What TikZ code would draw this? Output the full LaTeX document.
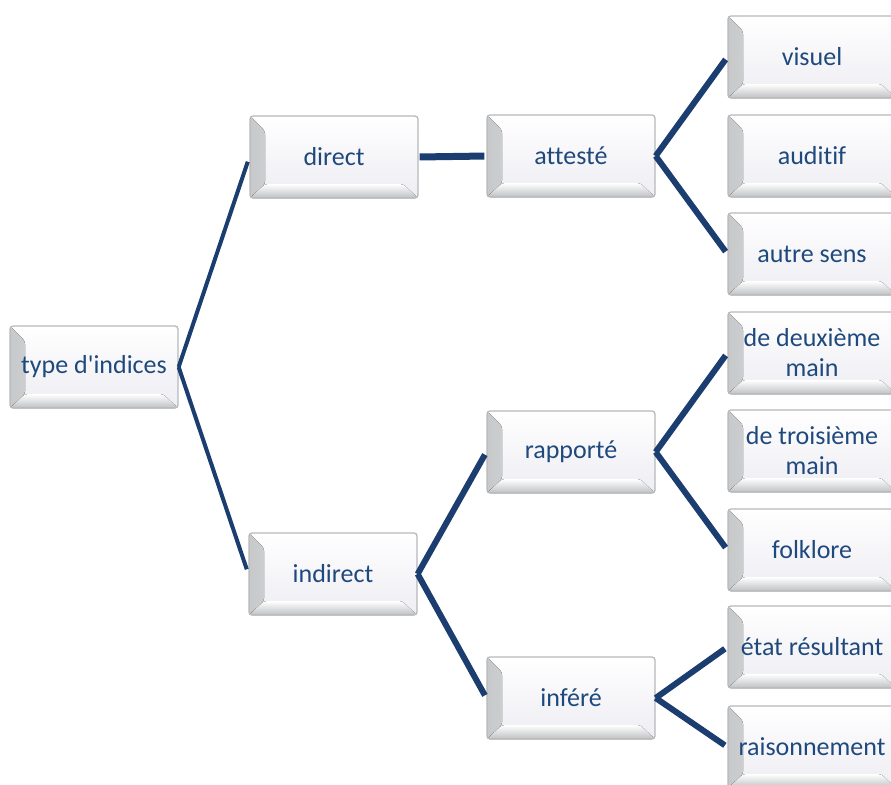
\documentclass[tikz,border=0pt]{standalone}
\usepackage{fontspec}
\setmainfont{Carlito}[Ligatures=NoCommon]
\usetikzlibrary{positioning,calc}
\definecolor{txtblue}{HTML}{1F497D}
\definecolor{linkblue}{HTML}{1B3D6F}
\definecolor{facebot}{HTML}{EDEDF3}
\definecolor{rimgray}{HTML}{A9ABAE}

\begin{document}
\begin{tikzpicture}
[x=1pt,y=-1pt,
bbox/.style={rectangle,rounded corners=3pt,minimum width=168pt,minimum height=82pt,
 inner sep=2pt,align=center,text=txtblue,font=\fontsize{26}{30}\selectfont,
 draw=rimgray!85,line width=1.3pt,top color=white,bottom color=facebot,
 path picture={
  % left and bottom bevels
  \fill[left color=rimgray!65,right color=white]
   (path picture bounding box.north west) -- (path picture bounding box.south west)
   -- ($(path picture bounding box.south west)+(15pt,14pt)$)
   -- ($(path picture bounding box.north west)+(15pt,-15pt)$) -- cycle;
  \fill[bottom color=rimgray!75,top color=white]
   (path picture bounding box.south west) -- (path picture bounding box.south east)
   -- ($(path picture bounding box.south east)+(-15pt,14pt)$)
   -- ($(path picture bounding box.south west)+(15pt,14pt)$) -- cycle;
 }},
link/.style={draw=linkblue,line width=6pt,shorten >=3pt},
rootlink/.style={draw=linkblue,line width=4pt,shorten >=5pt},
hlink/.style={draw=linkblue,line width=7pt,shorten <=1pt,shorten >=2pt}]
\useasboundingbox (0,0) rectangle (891,784);
%%
% root and first level
%%
\node[bbox] (root) at (94,367) {type d\textquotesingle indices};
\node[bbox] (direct) at (334,157) {direct};
\node[bbox] (indirect) at (333,574) {indirect};
%%
% second level
%%
\node[bbox] (attest) at (571,156) {attesté};
\node[bbox] (rapport) at (571,452) {rapporté};
\node[bbox] (infere) at (571,698) {inféré};
%%
% third level
%%
\node[bbox] (visuel) at (812,57) {visuel};
\node[bbox] (auditif) at (812,156) {auditif};
\node[bbox] (autre) at (812,254) {autre sens};
\node[bbox] (deux) at (812,353) {de deuxième\\main};
\node[bbox] (trois) at (812,451) {de troisième\\main};
\node[bbox] (folk) at (812,550) {folklore};
\node[bbox] (etat) at (812,647) {état résultant};
\node[bbox] (raison) at (812,747) {raisonnement};
%%
% connectors
%%
\path
(root.east) edge[rootlink] (direct.west)
(root.east) edge[rootlink] (indirect.west);
\path
(direct.east) edge[hlink] (attest.west)
(indirect.east) edge[link] (rapport.west)
(indirect.east) edge[link] (infere.west);
\path
(attest.east) edge[link] (visuel.west)
(attest.east) edge[link] (autre.west)
(rapport.east) edge[link] (deux.west)
(rapport.east) edge[link] (folk.west)
(infere.east) edge[link] (etat.west)
(infere.east) edge[link] (raison.west);
\end{tikzpicture}
\end{document}
